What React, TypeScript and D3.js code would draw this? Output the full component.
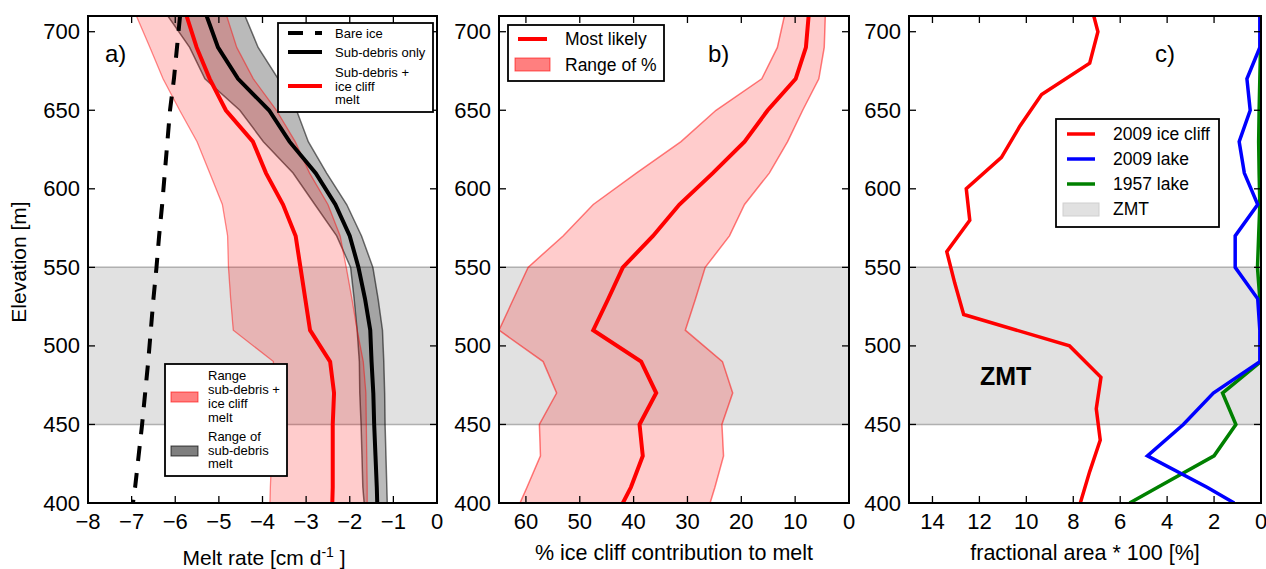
import React from 'react';
import * as d3 from 'd3';

// elevation bins (m) used by panels a and b
const elev = [710, 690, 670, 650, 630, 610, 590, 570, 550, 530, 510, 490, 470, 450, 430, 410, 400];

// a) melt rate, cm/d
const bareIce = [-5.89, -5.96, -6.03, -6.12, -6.18, -6.24, -6.3, -6.37, -6.43, -6.5, -6.56, -6.62, -6.69, -6.76, -6.84, -6.92, -6.97];
const subDebris = [-5.28, -5.02, -4.56, -3.85, -3.38, -2.78, -2.33, -2.0, -1.8, -1.65, -1.53, -1.5, -1.46, -1.44, -1.41, -1.38, -1.37];
const subDebrisLo = [-6.17, -5.67, -5.32, -4.52, -3.98, -3.3, -2.8, -2.3, -1.98, -1.9, -1.83, -1.78, -1.77, -1.74, -1.72, -1.7, -1.67];
const subDebrisHi = [-4.4, -4.1, -3.64, -3.22, -2.95, -2.53, -2.07, -1.73, -1.47, -1.35, -1.25, -1.22, -1.2, -1.19, -1.17, -1.15, -1.14];
const withCliff = [-5.74, -5.51, -5.21, -4.84, -4.22, -3.92, -3.53, -3.24, -3.13, -3.02, -2.91, -2.45, -2.36, -2.39, -2.39, -2.39, -2.4];
const withCliffLo = [-6.89, -6.58, -6.28, -5.9, -5.5, -5.21, -4.92, -4.8, -4.78, -4.73, -4.67, -3.75, -3.75, -3.76, -3.79, -3.82, -3.83];
const withCliffHi = [-4.82, -4.59, -4.21, -3.68, -3.25, -2.92, -2.5, -2.22, -2.08, -1.95, -1.83, -1.69, -1.63, -1.62, -1.61, -1.6, -1.6];

// b) % ice cliff contribution
const likely = [7.5, 8.0, 9.9, 15.1, 19.4, 25.3, 31.5, 36.4, 42.0, 44.7, 47.5, 38.6, 35.8, 38.9, 38.3, 40.5, 42.0];
const pctHi = [12.0, 13.3, 16.2, 24.7, 31.2, 39.5, 47.5, 53.1, 59.6, 62.3, 65.0, 56.8, 54.3, 57.5, 57.3, 59.8, 61.1];
const pctLo = [4.4, 4.6, 5.6, 8.6, 11.4, 14.8, 19.4, 22.2, 26.7, 28.5, 30.4, 23.5, 21.6, 23.6, 23.3, 24.9, 25.8];

// c) fractional area * 100
const elevCliff = [720, 700, 680, 660, 640, 620, 600, 580, 560, 540, 520, 500, 480, 460, 440, 420, 400];
const cliff2009 = [7.3, 6.95, 7.3, 9.35, 10.27, 11.06, 12.56, 12.41, 13.39, 13.05, 12.67, 8.16, 6.82, 7.02, 6.85, 7.3, 7.7];
const lake2009 = [0.05, 0.05, 0.6, 0.46, 0.93, 0.71, 0.14, 1.1, 1.1, 0.14, 0.05, 0.05, 2.03, 3.31, 4.84, 2.3, 1.14];
const lake1957 = [0, 0.02, 0.05, 0.08, 0.1, 0.08, 0.05, 0.1, 0.15, 0.05, 0, 0, 1.64, 1.07, 2.0, 4.4, 5.6];

const yTicks = [400, 450, 500, 550, 600, 650, 700];
const ticksA = [-8, -7, -6, -5, -4, -3, -2, -1, 0];
const ticksB = [60, 50, 40, 30, 20, 10, 0];
const ticksC = [14, 12, 10, 8, 6, 4, 2, 0];

const FONT = '"Liberation Sans", Arial, Helvetica, sans-serif';
const TOP = 16;
const BOTTOM = 503;

const y = d3.scaleLinear().domain([400, 710]).range([BOTTOM, TOP]);
const xA = d3.scaleLinear().domain([-8, 0]).range([88, 437]);
const xB = d3.scaleLinear().domain([65, 0]).range([499, 849]);
const xC = d3.scaleLinear().domain([15, 0]).range([909, 1261]);

const lineOf = (xs: any, vals: number[], elevs: number[]) =>
  d3.line<number>().x((d) => xs(d)).y((d, i) => y(elevs[i]))(vals) as string;

const areaOf = (xs: any, lo: number[], hi: number[], elevs: number[]) =>
  d3.area<number>().y((d) => y(d)).x0((d, i) => xs(lo[i])).x1((d, i) => xs(hi[i]))(elevs) as string;

const minus = (v: number) => (v < 0 ? '\u2212' + Math.abs(v) : String(v));

function Panel({ id, xs, ticks, label, labelX, children }: any) {
  const [x0, x1] = xs.range();
  return (
    <g>
      <defs>
        <clipPath id={id}>
          <rect x={x0} y={TOP} width={x1 - x0} height={BOTTOM - TOP} />
        </clipPath>
      </defs>
      <rect x={x0} y={y(550)} width={x1 - x0} height={y(450) - y(550)} fill="#e1e1e1" />
      <line x1={x0} x2={x1} y1={y(550)} y2={y(550)} stroke="#b0b0b0" strokeWidth={1.5} />
      <line x1={x0} x2={x1} y1={y(450)} y2={y(450)} stroke="#b0b0b0" strokeWidth={1.5} />
      <g clipPath={`url(#${id})`}>{children}</g>
      {ticks.map((t: number) => (
        <g key={'x' + t}>
          <line x1={xs(t)} x2={xs(t)} y1={BOTTOM} y2={BOTTOM - 7} stroke="#000" strokeWidth={1.3} />
          <line x1={xs(t)} x2={xs(t)} y1={TOP} y2={TOP + 7} stroke="#000" strokeWidth={1.3} />
          <text x={xs(t)} y={BOTTOM + 26} textAnchor="middle" fontSize={22}>{minus(t)}</text>
        </g>
      ))}
      {yTicks.map((t) => (
        <g key={'y' + t}>
          <line x1={x0} x2={x0 + 7} y1={y(t)} y2={y(t)} stroke="#000" strokeWidth={1.3} />
          <line x1={x1} x2={x1 - 7} y1={y(t)} y2={y(t)} stroke="#000" strokeWidth={1.3} />
          <text x={x0 - 8} y={y(t)} textAnchor="end" dominantBaseline="central" fontSize={22}>{t}</text>
        </g>
      ))}
      <rect x={x0} y={TOP} width={x1 - x0} height={BOTTOM - TOP} fill="none" stroke="#000" strokeWidth={2} />
      <text x={labelX} y={62} fontSize={24}>{label}</text>
    </g>
  );
}

export default function App() {
  return (
    <svg width={1266} height={569} style={{ position: 'absolute', left: 0, top: 0, background: '#fff' }} fontFamily={FONT}>
      <rect width={1266} height={569} fill="#fff" />

      {/* a) melt rates */}
      <Panel id="clipA" xs={xA} ticks={ticksA} label="a)" labelX={105}>
        <path d={areaOf(xA, subDebrisLo, subDebrisHi, elev)} fill="rgba(0,0,0,0.27)" stroke="rgba(0,0,0,0.55)" strokeWidth={1.5} />
        <path d={areaOf(xA, withCliffLo, withCliffHi, elev)} fill="rgba(255,0,0,0.2)" stroke="rgba(255,0,0,0.45)" strokeWidth={1.3} />
        <path d={lineOf(xA, bareIce, elev)} fill="none" stroke="#000" strokeWidth={4} strokeDasharray="15 12" />
        <path d={lineOf(xA, subDebris, elev)} fill="none" stroke="#000" strokeWidth={4} />
        <path d={lineOf(xA, withCliff, elev)} fill="none" stroke="#f00" strokeWidth={4} />
      </Panel>
      <g fontSize={13}>
        <rect x={278} y={23} width={155} height={89} fill="#fff" stroke="#000" strokeWidth={1.8} />
        <line x1={288} x2={322} y1={33} y2={33} stroke="#000" strokeWidth={4} strokeDasharray="15 12" />
        <text x={335} y={33} dominantBaseline="central">Bare ice</text>
        <line x1={288} x2={322} y1={52} y2={52} stroke="#000" strokeWidth={4} />
        <text x={335} y={52} dominantBaseline="central">Sub-debris only</text>
        <line x1={288} x2={322} y1={86} y2={86} stroke="#f00" strokeWidth={4} />
        <text x={335} y={72} dominantBaseline="central">Sub-debris +</text>
        <text x={335} y={86} dominantBaseline="central">ice cliff</text>
        <text x={335} y={99} dominantBaseline="central">melt</text>
      </g>
      <g fontSize={13}>
        <rect x={165} y={364} width={122} height={112} fill="#fff" stroke="#000" strokeWidth={1.8} />
        <rect x={171} y={392} width={27} height={10} fill="rgba(255,0,0,0.5)" stroke="rgba(255,0,0,0.6)" strokeWidth={1} />
        <text x={208} y={375} dominantBaseline="central">Range</text>
        <text x={208} y={389} dominantBaseline="central">sub-debris +</text>
        <text x={208} y={403} dominantBaseline="central">ice cliff</text>
        <text x={208} y={417} dominantBaseline="central">melt</text>
        <rect x={171} y={446} width={27} height={10} fill="rgba(0,0,0,0.5)" stroke="rgba(0,0,0,0.7)" strokeWidth={1} />
        <text x={208} y={436} dominantBaseline="central">Range of</text>
        <text x={208} y={450} dominantBaseline="central">sub-debris</text>
        <text x={208} y={463} dominantBaseline="central">melt</text>
      </g>

      {/* b) ice cliff share */}
      <Panel id="clipB" xs={xB} ticks={ticksB} label="b)" labelX={708}>
        <path d={areaOf(xB, pctLo, pctHi, elev)} fill="rgba(255,0,0,0.2)" stroke="rgba(255,0,0,0.5)" strokeWidth={1.5} />
        <path d={lineOf(xB, likely, elev)} fill="none" stroke="#f00" strokeWidth={4} />
      </Panel>
      <g fontSize={17.5}>
        <rect x={508} y={25} width={156} height={56} fill="#fff" stroke="#000" strokeWidth={1.8} />
        <line x1={518} x2={547} y1={39} y2={39} stroke="#f00" strokeWidth={4} />
        <text x={565} y={39} dominantBaseline="central">Most likely</text>
        <rect x={515} y={58} width={35} height={13} fill="rgba(255,0,0,0.5)" stroke="rgba(255,0,0,0.6)" strokeWidth={1} />
        <text x={565} y={65} dominantBaseline="central">Range of %</text>
      </g>

      {/* c) fractional area */}
      <Panel id="clipC" xs={xC} ticks={ticksC} label="c)" labelX={1155}>
        <path d={lineOf(xC, cliff2009, elevCliff)} fill="none" stroke="#f00" strokeWidth={3.5} />
        <path d={lineOf(xC, lake1957, elev)} fill="none" stroke="#008000" strokeWidth={3.5} />
        <path d={lineOf(xC, lake2009, elev)} fill="none" stroke="#00f" strokeWidth={3.5} />
      </Panel>
      <text x={980} y={385} fontSize={25} fontWeight="bold">ZMT</text>
      <g fontSize={17.5}>
        <rect x={1056} y={119} width={163} height={108} fill="#fff" stroke="#000" strokeWidth={1.8} />
        <line x1={1067} x2={1095} y1={134} y2={134} stroke="#f00" strokeWidth={3.5} />
        <text x={1113} y={134} dominantBaseline="central">2009 ice cliff</text>
        <line x1={1067} x2={1095} y1={159} y2={159} stroke="#00f" strokeWidth={3.5} />
        <text x={1113} y={159} dominantBaseline="central">2009 lake</text>
        <line x1={1067} x2={1095} y1={184} y2={184} stroke="#008000" strokeWidth={3.5} />
        <text x={1113} y={184} dominantBaseline="central">1957 lake</text>
        <rect x={1063} y={203} width={36} height={13} fill="#e1e1e1" stroke="#cfcfcf" strokeWidth={1} />
        <text x={1113} y={209} dominantBaseline="central">ZMT</text>
      </g>

      {/* axis titles */}
      <text x={26} y={262} fontSize={21} textAnchor="middle" transform="rotate(-90 26 262)">Elevation [m]</text>
      <text x={264} y={565} fontSize={21} textAnchor="middle">
        Melt rate [cm d<tspan fontSize={14} dy={-8}>-1</tspan><tspan dy={8}> ]</tspan>
      </text>
      <text x={674} y={560} fontSize={21.5} textAnchor="middle">% ice cliff contribution to melt</text>
      <text x={1085} y={560} fontSize={21.5} textAnchor="middle">fractional area * 100 [%]</text>
    </svg>
  );
}
